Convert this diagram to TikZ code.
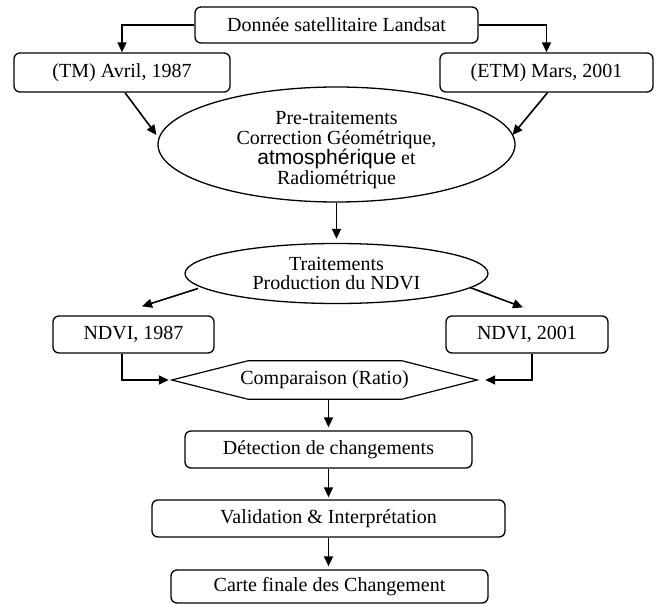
\documentclass[tikz,border=0pt]{standalone}
\usepackage{fontspec}
\setmainfont{Liberation Serif}
\newfontfamily\arialfont{Liberation Sans}
\usetikzlibrary{arrows.meta,calc,shapes.geometric}
\begin{document}
\begin{tikzpicture}[x=1pt,y=-1pt,
  box/.style={draw,line width=1.3pt,rounded corners=6pt,inner sep=0pt,font=\fontsize{20}{21}\selectfont},
  ell/.style={draw,ellipse,line width=1.3pt,inner sep=0pt},
  arr/.style={line width=1.6pt,-{Triangle[length=10pt,width=9pt]}},
  txt/.style={font=\fontsize{20}{19.5}\selectfont,align=center,inner sep=0pt}]
\useasboundingbox (0,0) rectangle (661,604);

\node[box,minimum width=283,minimum height=36] (top) at (336.5,25) {Donnée satellitaire Landsat};
\node[box,minimum width=216,minimum height=39] (tm) at (122,72.5) {(TM) Avril, 1987};
\node[box,minimum width=213,minimum height=39] (etm) at (546.5,72.5) {(ETM) Mars, 2001};

\node[ell,minimum width=357,minimum height=115] (e1) at (336.5,144.5) {};
\node[txt] (e1t) at (336.5,150) {Pre-traitements\\Correction Géométrique,\\{\fontsize{21}{21}\arialfont atmosphérique} et\\Radiométrique};

\node[ell,txt,draw,minimum width=303,minimum height=60] (e2) at (336.5,273.5) {Traitements\\Production du NDVI};

\node[box,minimum width=161,minimum height=37] (n87) at (133.5,334.5) {NDVI, 1987};
\node[box,minimum width=162,minimum height=37] (n01) at (527,334.5) {NDVI, 2001};

\node[txt,minimum width=305,minimum height=38] (cmp) at (324.5,380) {Comparaison (Ratio)};
\draw[line width=1.2pt] (cmp.west) -- ([xshift=76pt]cmp.north west) -- ([xshift=-75pt]cmp.north east) -- (cmp.east) -- ([xshift=-75pt]cmp.south east) -- ([xshift=76pt]cmp.south west) -- cycle;

\node[box,minimum width=287,minimum height=37] (det) at (328.5,449.5) {Détection de changements};
\node[box,minimum width=353,minimum height=37] (val) at (328.5,518.5) {Validation \& Interprétation};
\node[box,minimum width=317,minimum height=33] (carte) at (329.5,586.5) {Carte finale des Changement};

\draw[arr] (top.west) -| (tm.north);
\draw[arr] (top.east) -| (etm.north);
\draw[arr] ([xshift=3pt]tm.south) -- ($(e1.center)+(-180,-9.5)$);
\draw[arr] ([xshift=1pt]etm.south) -- ($(e1.center)+(176,-9.5)$);
\draw[arr,shorten >=4pt] (e1.south) -- (e2.north);
\draw[arr] ($(e2.center)+(-138.5,15)$) -- ([xshift=8.5pt,yshift=9pt]n87.north);
\draw[arr] ($(e2.center)+(133.5,14)$) -- ([xshift=-4pt,yshift=8pt]n01.north);
\draw[arr,shorten >=3pt] ([xshift=-11.5pt]n87.south) |- (cmp.west);
\draw[arr,shorten >=8pt] ([xshift=5pt]n01.south) |- (cmp.east);
\draw[arr,shorten >=3pt] (det.north |- cmp.south) -- (det.north);
\draw[arr,shorten >=2pt] (det.south) -- (det.south |- val.north);
\draw[arr,shorten >=3pt] (val.south) -- (val.south |- carte.north);
\end{tikzpicture}
\end{document}
